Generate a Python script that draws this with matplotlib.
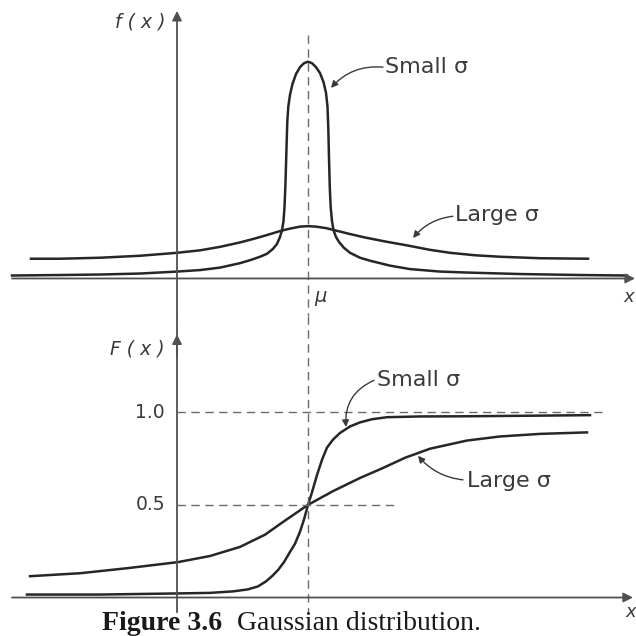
import matplotlib
matplotlib.use("Agg")
import matplotlib.pyplot as plt
from matplotlib.transforms import offset_copy

# ---- data (x measured relative to mu) ----
pdf_small_x = [-2.96, -2.48, -2.08, -1.68, -1.31, -1.08, -0.88, -0.68, -0.58, -0.48, -0.41, -0.35,
               -0.31, -0.28, -0.26, -0.245, -0.235, -0.225, -0.215, -0.207, -0.197, -0.18, -0.155,
               -0.12, -0.08, -0.04, 0.00, 0.04, 0.08, 0.12, 0.155, 0.18, 0.195, 0.203, 0.21, 0.218,
               0.227, 0.24, 0.255, 0.28, 0.31, 0.36, 0.42, 0.52, 0.62, 0.82, 1.02, 1.32, 1.59,
               2.12, 2.72, 3.19]
pdf_small_y = [0.03, 0.035, 0.04, 0.05, 0.07, 0.085, 0.11, 0.155, 0.185, 0.22, 0.25, 0.30,
               0.35, 0.42, 0.49, 0.58, 0.72, 0.97, 1.32, 1.59, 1.74, 1.86, 1.97,
               2.07, 2.14, 2.18, 2.195, 2.18, 2.14, 2.08, 1.99, 1.88, 1.74, 1.52, 1.22, 0.92,
               0.72, 0.58, 0.49, 0.42, 0.37, 0.31, 0.26, 0.21, 0.18, 0.13, 0.095, 0.07, 0.06,
               0.045, 0.035, 0.03]

pdf_large_x = [-2.77, -2.48, -2.08, -1.68, -1.31, -1.08, -0.88, -0.68, -0.53, -0.41, -0.28, -0.18,
               -0.08, 0.00, 0.08, 0.18, 0.30, 0.42, 0.57, 0.77, 0.99, 1.22, 1.42, 1.67, 1.92,
               2.32, 2.80]
pdf_large_y = [0.20, 0.20, 0.21, 0.23, 0.26, 0.285, 0.32, 0.365, 0.405, 0.44, 0.48, 0.505,
               0.525, 0.53, 0.525, 0.51, 0.48, 0.45, 0.415, 0.375, 0.335, 0.29, 0.26, 0.235, 0.22,
               0.205, 0.20]

cdf_small_x = [-2.81, -2.08, -1.30, -0.98, -0.75, -0.60, -0.50, -0.42, -0.36, -0.30, -0.24, -0.18,
               -0.13, -0.08, -0.04, 0.00, 0.04, 0.09, 0.14, 0.19, 0.25, 0.32, 0.42, 0.52, 0.64,
               0.79, 1.12, 1.59, 2.22, 2.82]
cdf_small_y = [0.016, 0.016, 0.022, 0.025, 0.033, 0.044, 0.060, 0.087, 0.115, 0.148, 0.191, 0.246,
               0.290, 0.355, 0.421, 0.50, 0.568, 0.661, 0.743, 0.809, 0.852, 0.888, 0.923, 0.945,
               0.962, 0.973, 0.977, 0.978, 0.981, 0.984]

cdf_large_x = [-2.78, -2.28, -1.81, -1.30, -0.98, -0.68, -0.43, -0.23, 0.00, 0.25, 0.52, 0.75,
               0.97, 1.22, 1.59, 1.92, 2.32, 2.79]
cdf_large_y = [0.115, 0.131, 0.158, 0.191, 0.224, 0.273, 0.339, 0.415, 0.50, 0.574, 0.645, 0.699,
               0.754, 0.803, 0.847, 0.869, 0.883, 0.891]

cdf_ticks = [1.0, 0.5]
cdf_tick_labels = ["1.0", "0.5"]

CURVE = "#262626"
AXC = "#505050"
DASH = "#6a6a6a"
TXT = "#3a3a3a"
LW = 1.8

fig = plt.figure(figsize=(6.36, 6.36), dpi=100)
fig.patch.set_facecolor("white")

XLIM = (-3.08, 3.28)
YAX = -1.31

# ---------------- top panel: f(x) ----------------
ax1 = fig.add_axes([0, 320 / 636, 1, 1 - 320 / 636])
ax1.set_xlim(*XLIM)
ax1.set_ylim(-0.38, 2.82)
ax1.axis("off")

ax1.plot(pdf_small_x, pdf_small_y, color=CURVE, lw=LW, solid_joinstyle="round")
ax1.plot(pdf_large_x, pdf_large_y, color=CURVE, lw=LW, solid_joinstyle="round")

ax1.annotate("", xy=(3.27, 0), xytext=(-2.96, 0),
             arrowprops=dict(arrowstyle="-|>", color=AXC, lw=1.3, mutation_scale=14, shrinkA=0, shrinkB=0))
ax1.annotate("", xy=(YAX, 2.71), xytext=(YAX, -0.38),
             arrowprops=dict(arrowstyle="-|>", color=AXC, lw=1.3, mutation_scale=14, shrinkA=0, shrinkB=0))
ax1.plot([0, 0], [2.47, -0.38], color=DASH, lw=1.0, dashes=(6, 4))

ax1.text(YAX - 0.12, 2.60, "f ( x )", ha="right", va="center", fontsize=13.5,
         style="italic", color=TXT)
ax1.text(0.06, -0.18, "μ", ha="left", va="center", fontsize=14, style="italic", color=TXT)
ax1.text(3.15, -0.19, "x", ha="left", va="center", fontsize=13, style="italic", color=TXT)

ax1.text(0.77, 2.14, "Small σ", ha="left", va="center", fontsize=16, color=TXT)
ax1.annotate("", xy=(0.23, 1.93), xytext=(0.75, 2.14),
             arrowprops=dict(arrowstyle="-|>", color=TXT, lw=1.0, mutation_scale=10,
                             shrinkA=0, shrinkB=0, connectionstyle="arc3,rad=0.25"))
ax1.text(1.47, 0.64, "Large σ", ha="left", va="center", fontsize=16, color=TXT)
ax1.annotate("", xy=(1.05, 0.41), xytext=(1.45, 0.63),
             arrowprops=dict(arrowstyle="-|>", color=TXT, lw=1.0, mutation_scale=10,
                             shrinkA=0, shrinkB=0, connectionstyle="arc3,rad=0.2"))

# ---------------- bottom panel: F(x) ----------------
ax2 = fig.add_axes([0, 0, 1, 320 / 636])
ax2.set_xlim(*XLIM)
ax2.set_ylim(-0.2077, 1.5191)
ax2.axis("off")

ax2.plot(cdf_small_x, cdf_small_y, color=CURVE, lw=LW, solid_joinstyle="round")
ax2.plot(cdf_large_x, cdf_large_y, color=CURVE, lw=LW, solid_joinstyle="round")

ax2.annotate("", xy=(3.25, 0), xytext=(-2.96, 0),
             arrowprops=dict(arrowstyle="-|>", color=AXC, lw=1.3, mutation_scale=14, shrinkA=0, shrinkB=0))
ax2.plot([YAX, YAX], [1.5191, -0.077], color=AXC, lw=1.3)
ax2.annotate("", xy=(YAX, 1.42), xytext=(YAX, 1.30),
             arrowprops=dict(arrowstyle="-|>", color=AXC, lw=1.3, mutation_scale=14, shrinkA=0, shrinkB=0))
ax2.plot([0, 0], [1.5191, -0.077], color=DASH, lw=1.0, dashes=(6, 4))
ax2.plot([YAX, 2.99], [1.0, 1.0], color=DASH, lw=1.0, dashes=(6, 4))
ax2.plot([YAX, 0.90], [0.5, 0.5], color=DASH, lw=1.0, dashes=(6, 4))

for v, lab in zip(cdf_ticks, cdf_tick_labels):
    ax2.text(YAX - 0.12, v, lab, ha="right", va="center", fontsize=13.5, color=TXT)

ax2.text(YAX - 0.12, 1.339, "F ( x )", ha="right", va="center", fontsize=13.5,
         style="italic", color=TXT)
ax2.text(3.17, -0.08, "x", ha="left", va="center", fontsize=13, style="italic", color=TXT)

ax2.text(0.69, 1.175, "Small σ", ha="left", va="center", fontsize=16, color=TXT)
ax2.annotate("", xy=(0.38, 0.92), xytext=(0.66, 1.172),
             arrowprops=dict(arrowstyle="-|>", color=TXT, lw=1.0, mutation_scale=10,
                             shrinkA=0, shrinkB=0, connectionstyle="arc3,rad=0.35"))
ax2.text(1.59, 0.628, "Large σ", ha="left", va="center", fontsize=16, color=TXT)
ax2.annotate("", xy=(1.10, 0.765), xytext=(1.55, 0.635),
             arrowprops=dict(arrowstyle="-|>", color=TXT, lw=1.0, mutation_scale=10,
                             shrinkA=0, shrinkB=0, connectionstyle="arc3,rad=-0.2"))

# caption
cap_y = 1 - 623 / 636
t1 = fig.text(102 / 636, cap_y, "Figure 3.6", ha="left", va="center", fontsize=20,
              fontweight="bold", family="Liberation Serif", color="#1a1a1a")
fig.canvas.draw()
bb = t1.get_window_extent(renderer=fig.canvas.get_renderer())
fig.text(bb.x1 / fig.bbox.width, cap_y, "Gaussian distribution.", ha="left", va="center",
         fontsize=20, family="Liberation Serif", color="#1a1a1a",
         transform=offset_copy(fig.transFigure, fig=fig, x=15, y=0, units="dots"))

fig.savefig("out.png", dpi=100, facecolor="white")
